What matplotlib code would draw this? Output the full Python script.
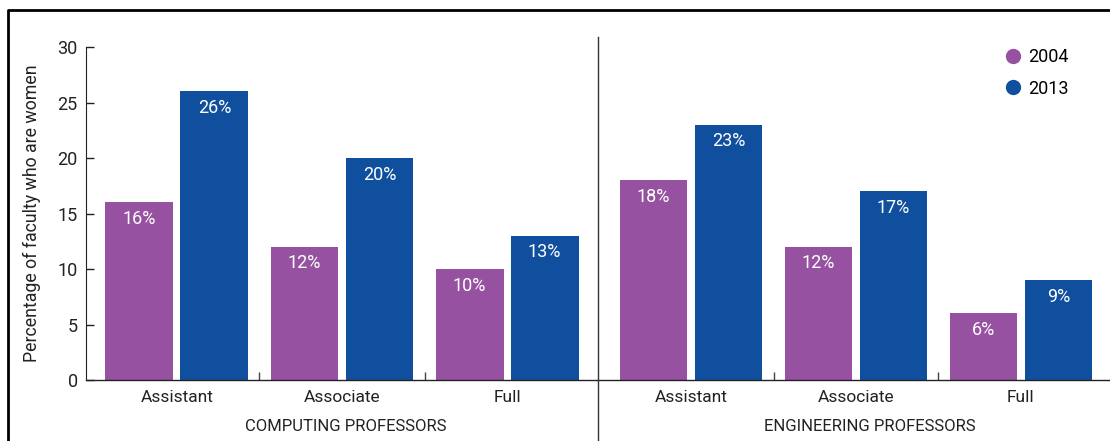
import numpy as np
import matplotlib.pyplot as plt
from matplotlib.lines import Line2D

ranks = ['Assistant', 'Associate', 'Full']
years = ['2004', '2013']
computing_2004 = [16, 12, 10]
computing_2013 = [26, 20, 13]
engineering_2004 = [18, 12, 6]
engineering_2013 = [23, 17, 9]
groups = ['COMPUTING PROFESSORS', 'ENGINEERING PROFESSORS']

purple = '#9651A0'
blue = '#104F9E'
ink = '#222222'

plt.rcParams['font.family'] = ['Roboto', 'DejaVu Sans']

W, H = 1110, 441
fig = plt.figure(figsize=(W / 100, H / 100), dpi=100)
ax1 = fig.add_axes([86 / W, 61 / H, 512 / W, 333 / H])
ax2 = fig.add_axes([598 / W, 61 / H, 512 / W, 333 / H])

x = np.arange(len(ranks))
bw = 0.41
off = 0.227


def draw_panel(ax, v04, v13, title, title_x):
    b1 = ax.bar(x - off, v04, bw, color=purple)
    b2 = ax.bar(x + off, v13, bw, color=blue)
    for bars, vals in ((b1, v04), (b2, v13)):
        for bar, v in zip(bars, vals):
            ax.annotate(f'{v}%', (bar.get_x() + bar.get_width() / 2, v),
                        xytext=(0, -5.5), textcoords='offset points',
                        ha='center', va='top', color='white',
                        fontsize=13)
    ax.set_ylim(0, 30)
    # separators between rank groups as major ticks, rank names as minor
    ax.set_xticks([0.5, 1.5])
    ax.set_xticklabels([])
    ax.set_xticks(x, minor=True)
    ax.set_xticklabels(ranks, minor=True, fontsize=12.5, color=ink)
    ax.tick_params(axis='x', which='major', direction='in', length=6,
                   width=1, color='#444444')
    ax.tick_params(axis='x', which='minor', length=0, pad=7.5)
    for s in ('top', 'right'):
        ax.spines[s].set_visible(False)
    ax.spines['bottom'].set_linewidth(1)
    ax.spines['bottom'].set_color(ink)
    ax.text(title_x, -0.14, title, transform=ax.transAxes,
            ha='center', va='center', fontsize=12, color=ink)


draw_panel(ax1, computing_2004, computing_2013, groups[0], 0.508)
draw_panel(ax2, engineering_2004, engineering_2013, groups[1], 0.531)

ax1.set_xlim(-0.55, 2.55)
ax2.set_xlim(-0.564, 2.54)

ax1.set_yticks(np.arange(0, 31, 5))
ax1.tick_params(axis='y', direction='in', length=6, width=1,
                labelsize=13, colors=ink, pad=6)
ax1.spines['left'].set_color(ink)
ax1.set_ylabel('Percentage of faculty who are women', fontsize=12.8,
               color=ink, labelpad=12)

ax2.spines['left'].set_visible(False)
ax2.set_yticks([])

handles = [Line2D([], [], marker='o', ls='', color=c, markersize=10)
           for c in (purple, blue)]
ax2.legend(handles, years, loc='upper right', bbox_to_anchor=(0.95, 1.045),
           frameon=False, fontsize=13, handletextpad=0.3, labelspacing=0.75,
           handlelength=1)

# panel divider and outer frame
fig.add_artist(Line2D([598 / W, 598 / W], [0, 1 - 37 / H],
                      color='#333333', lw=1))
fig.add_artist(Line2D([8 / W, 8 / W, 1], [0, 1 - 10 / H, 1 - 10 / H],
                      color='black', lw=2))

fig.savefig('out.png', dpi=100)
